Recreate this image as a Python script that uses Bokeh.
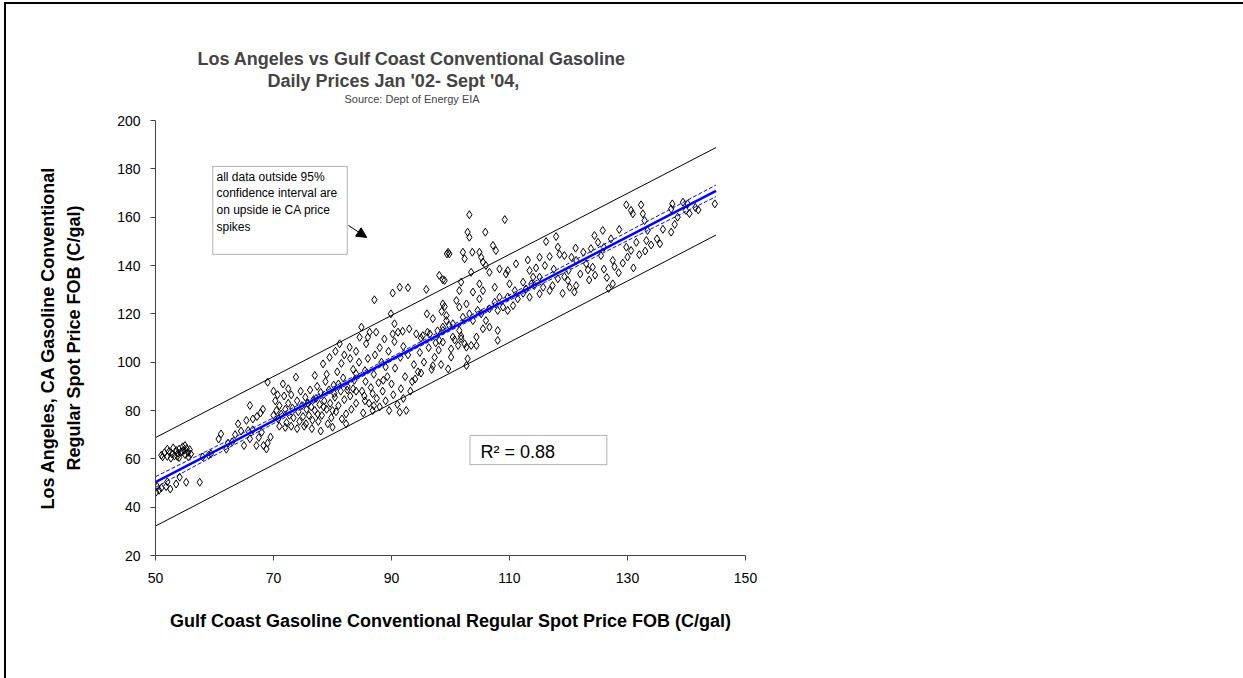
from bokeh.plotting import figure
from bokeh.models import (Range1d, FixedTicker, Label, BoxAnnotation, Arrow,
                          NormalHead, ColumnDataSource, Title)
from bokeh.embed import file_html
from bokeh.resources import INLINE

# ---------------- data ----------------
gulf_price = [
    51.0, 51.5, 52.0, 52.3, 52.8, 53.2, 53.5, 53.8, 54.0, 54.3, 54.6, 54.8, 55.0, 55.3, 55.5, 55.8,
    53.0, 52.0, 54.0, 55.0, 51.2, 56.0, 53.7, 54.5, 52.6, 55.6,
    50.1, 50.6, 51.0, 51.8, 52.5, 53.5, 54.1, 55.2, 57.5, 50.3, 52.0,
    58.0, 59.4, 59.0, 61.1, 60.7, 62.3, 63.0, 64.0, 64.5, 65.4, 65.7, 66.0, 67.1, 68.8, 68.3, 67.5,
    66.0, 66.5, 67.2, 67.8, 68.2, 63.5, 62.0, 65.0, 66.5, 68.0, 69.0, 69.5,
    69.0, 70.0, 70.3, 70.5, 70.8, 71.0, 71.3, 71.6, 71.8, 72.0, 72.2, 72.5, 72.7, 73.0, 73.2, 73.4,
    73.8, 74.0, 74.2, 74.4, 74.6, 74.8, 75.0, 75.2, 75.4, 75.6, 75.8, 76.0, 76.2, 76.4, 76.6, 76.8,
    72.0, 73.0, 74.0, 75.5, 71.0, 70.0, 70.7, 72.5,
    77.0, 77.2, 77.4, 77.6, 77.8, 78.0, 78.2, 78.4, 78.6, 78.8, 79.0, 79.2, 79.4, 79.6, 79.8, 80.0,
    80.2, 80.4, 80.6, 80.8, 81.0, 81.2, 81.4, 81.6, 81.8, 82.0, 82.3, 82.3, 82.5, 82.9, 83.0, 83.2,
    83.5, 83.7, 84.0, 84.0, 77.0, 79.5, 80.5, 78.0, 81.5, 83.0, 76.5, 79.0, 82.0, 84.0, 80.0, 78.5,
    81.0, 82.5, 83.5, 84.0, 80.3, 77.5,
    84.6, 84.9, 85.2, 85.4, 85.6, 85.7, 86.0, 86.2, 86.3, 86.5, 86.8, 87.0, 87.4, 87.5, 87.8, 88.0,
    88.3, 88.5, 88.8, 89.0, 89.3, 89.6, 89.9, 90.0, 90.2, 90.3, 90.5, 90.6, 91.0, 91.1, 91.4, 91.6,
    91.9, 92.0, 92.5, 92.3, 92.8, 93.0, 93.2, 93.5, 93.8, 94.2, 85.5, 86.0, 87.2, 88.0, 89.5, 90.5,
    91.5, 92.0, 85.0, 86.8, 88.6, 87.1, 90.2, 91.4, 92.8, 89.0, 84.5, 85.5, 87.0,
    94.5, 94.8, 95.0, 95.3, 95.5, 95.9, 96.1, 96.3, 96.5, 96.8, 97.0, 97.3, 97.5, 97.8, 98.1, 98.4,
    98.7, 98.7, 99.0, 99.3, 94.0, 95.0, 96.0, 97.0, 98.0, 99.4, 99.6, 98.5,
    103.2, 109.2, 102.9, 103.2, 105.9, 107.2, 107.7, 99.8, 99.6, 102.1, 102.4, 103.7, 104.9, 105.2,
    105.5, 106.0, 99.0, 101.8, 103.5, 104.9, 105.5, 106.6, 107.5, 108.3, 109.7, 109.4, 111.1, 112.3,
    113.1, 115.1, 116.8, 116.2, 117.9, 118.2, 118.5, 119.3, 120.5, 121.2, 113.4, 114.0, 115.1, 113.7,
    110.0, 110.9, 111.4, 110.6, 109.7, 108.3, 107.5, 106.6, 104.9, 103.8, 104.6, 103.2, 102.7, 101.5,
    102.1, 100.4, 99.3, 98.7, 101.5, 104.4, 103.8, 105.5, 108.0, 112.8, 113.4, 114.2, 115.1, 115.7,
    116.8, 117.3, 118.2, 119.3, 120.2, 119.9, 121.3, 121.3, 123.0, 123.3, 124.1, 124.4, 125.8, 125.0,
    125.5, 126.0, 127.2, 127.5, 127.5, 128.6, 129.8, 130.6, 129.8, 130.6, 130.9, 132.3, 132.6, 132.9,
    131.5, 133.2, 133.4, 137.4, 137.6, 137.4, 139.4, 139.9, 140.2, 144.8, 98.7, 101.0, 101.5, 99.8,
    98.1, 100.4, 101.8, 105.2, 106.0, 106.6, 108.0, 108.9, 109.7, 112.3,
    98.7, 100.1, 100.7, 101.3, 101.8, 102.4, 102.7, 103.5, 104.4, 100.1, 102.9, 102.7, 108.0,
    122.0, 123.5, 124.5, 126.0, 126.5, 127.8, 128.5, 129.2, 130.0, 131.0, 132.0, 133.0, 134.0, 135.0,
    135.5, 136.0, 138.0, 138.5, 140.5, 141.5, 142.0, 122.5, 123.8, 120.0, 117.5, 116.0, 114.5, 119.0,
    121.0, 126.8,
]
la_price = [
    61.5, 62.5, 61.0, 63.0, 62.0, 61.2, 63.5, 62.3, 64.0, 62.8, 65.0, 63.5, 61.8, 64.2, 62.6, 63.8,
    64.5, 64.0, 60.5, 65.5, 60.8, 62.0, 61.0, 63.0, 60.3, 60.8,
    46.2, 47.0, 48.0, 48.5, 47.5, 49.6, 52.4, 50.3, 50.3, 48.5, 50.5,
    60.8, 62.1, 61.5, 70.3, 68.2, 66.5, 67.0, 74.5, 71.5, 75.9, 71.7, 68.3, 65.5, 64.1, 65.5, 68.8,
    82.1, 76.5, 77.5, 79.0, 80.5, 70.0, 64.0, 65.5, 72.0, 71.0, 66.5, 69.0,
    91.7, 88.0, 84.0, 80.0, 76.5, 82.0, 78.5, 91.0, 86.0, 80.5, 75.0, 83.0, 78.0, 86.5, 81.0, 77.0,
    93.8, 84.0, 79.5, 75.5, 88.0, 82.0, 77.5, 73.5, 85.5, 80.5, 83.0, 78.0, 88.5, 81.5, 76.0, 84.5,
    73.0, 73.5, 72.5, 74.5, 73.5, 78.0, 86.5, 89.0,
    80.0, 85.0, 90.0, 75.5, 82.5, 87.5, 78.0, 99.3, 84.0, 92.0, 80.5, 74.5, 88.5, 83.0, 77.0, 73.1,
    90.5, 85.5, 79.5, 96.0, 82.0, 107.6, 88.0, 76.5, 93.5, 84.5, 78.6, 74.5, 90.0, 106.2, 86.0, 80.5,
    97.0, 92.5, 83.0, 95.2, 94.5, 102.0, 104.5, 71.5, 99.5, 101.5, 72.5, 95.0, 103.0, 104.5, 80.0, 81.5,
    91.0, 88.5, 89.0, 88.0, 87.0, 78.5,
    110.3, 114.5, 79.0, 86.0, 92.0, 107.6, 110.3, 83.0, 112.4, 89.5, 80.0, 95.0, 112.4, 85.0, 91.5, 81.5,
    100.0, 88.0, 109.6, 84.0, 94.0, 80.0, 120.0, 91.0, 111.7, 86.5, 115.9, 97.5, 82.5, 112.4, 79.3, 89.0,
    112.8, 85.0, 80.0, 94.0, 103.0, 113.8, 88.0, 92.0, 99.0, 111.7, 96.5, 101.5, 103.0, 106.0, 104.5, 108.5,
    102.0, 106.5, 88.0, 87.0, 92.5, 125.8, 128.6, 131.0, 130.8, 98.0, 100.0, 84.0, 82.0,
    96.0, 104.0, 110.0, 111.0, 100.0, 130.1, 112.4, 106.0, 111.7, 97.0, 118.0, 102.0, 108.0, 113.0, 135.9, 99.0,
    114.5, 134.1, 123.0, 117.2, 93.0, 95.5, 120.0, 98.5, 105.0, 144.8, 97.2, 121.0,
    161.0, 159.0, 153.8, 151.7, 153.8, 148.3, 146.2, 144.8, 145.5, 145.5, 142.8, 145.5, 145.5, 143.4,
    141.4, 140.0, 133.8, 133.1, 137.2, 132.4, 129.6, 137.2, 131.0, 138.6, 137.9, 136.5, 140.7, 133.1,
    142.3, 143.4, 143.7, 149.9, 152.0, 147.6, 144.6, 144.1, 143.4, 147.2, 137.9, 135.2, 135.2, 132.4,
    132.4, 129.6, 126.2, 123.4, 121.4, 126.9, 124.8, 122.1, 126.2, 129.0, 121.4, 120.0, 124.1, 122.8,
    118.6, 115.9, 119.3, 113.1, 113.1, 110.4, 117.2, 113.8, 113.1, 130.3, 126.9, 131.7, 128.3, 131.0,
    129.6, 131.7, 134.5, 135.4, 131.0, 133.8, 131.7, 142.1, 140.7, 138.2, 139.3, 152.4, 154.5, 149.6,
    144.1, 147.5, 151.0, 142.1, 132.4, 154.9, 147.6, 146.2, 165.1, 162.8, 161.4, 165.1, 161.4, 158.6,
    149.6, 150.3, 154.5, 153.8, 165.5, 163.4, 166.2, 162.8, 165.5, 165.5, 124.1, 125.5, 129.6, 115.2,
    109.0, 110.4, 110.8, 120.0, 117.2, 114.5, 121.4, 122.8, 127.0, 128.5,
    108.3, 105.5, 109.2, 106.9, 109.7, 107.6, 106.2, 106.9, 106.9, 102.1, 101.4, 98.6, 109.0,
    136.5, 134.0, 136.0, 138.5, 135.0, 139.5, 137.0, 141.0, 143.5, 139.0, 144.5, 146.0, 148.5, 151.0,
    149.0, 155.0, 157.0, 160.0, 161.5, 164.0, 163.0, 145.5, 147.0, 138.0, 138.5, 140.0, 139.0, 128.5,
    129.0, 130.5,
]

# trend line, 95% prediction band and 95% confidence band
fit_x = [50.0, 145.0]
fit_y = [50.4, 170.9]
pred_upper = [68.8, 188.8]
pred_lower = [32.2, 152.6]
conf_x = [50.0, 70.0, 90.0, 110.0, 130.0, 145.0]
conf_upper = [52.6, 77.0, 102.1, 127.8, 153.9, 173.3]
conf_lower = [48.2, 74.6, 100.5, 125.6, 150.3, 168.5]

x_ticks = [50, 70, 90, 110, 130, 150]
y_ticks = [20, 40, 60, 80, 100, 120, 140, 160, 180, 200]

title_lines = ["Los Angeles vs  Gulf Coast Conventional Gasoline",
               "Daily Prices Jan '02- Sept '04,"]
source_text = "Source: Dept of Energy EIA"
x_title = "Gulf Coast Gasoline Conventional Regular Spot Price FOB (C/gal)"
y_title = ["Los Angeles, CA Gasoline Conventional", "Regular Spot Price FOB (C/gal)"]
note_lines = ["all data outside 95%", "confidence interval are", "on upside ie CA price", "spikes"]
r2_text = "R\u00b2 = 0.88"

FONT = "Liberation Sans"

# ---------------- figure ----------------
p = figure(frame_width=590, frame_height=435,
           min_border_left=149, min_border_right=498,
           min_border_top=116, min_border_bottom=123,
           x_range=Range1d(50, 150), y_range=Range1d(20, 200),
           output_backend="svg", toolbar_location=None,
           background_fill_color="white", border_fill_color="white",
           styles={"border-top": "2px solid black", "border-left": "2px solid black",
                   "margin-left": "4px", "margin-top": "2px"})
p.outline_line_color = None
p.grid.visible = False

for ax in (p.xaxis[0], p.yaxis[0]):
    ax.major_label_text_font = FONT
    ax.major_label_text_font_size = "14px"
    ax.major_label_text_color = "black"
    ax.axis_line_color = "#444444"
    ax.major_tick_line_color = "#444444"
    ax.minor_tick_line_color = None
    ax.major_tick_out = 5
    ax.major_tick_in = 0
    ax.axis_label_text_font = FONT
    ax.axis_label_text_font_size = "18px"
    ax.axis_label_text_font_style = "bold"
    ax.axis_label_text_color = "black"
p.xaxis[0].ticker = FixedTicker(ticks=x_ticks)
p.yaxis[0].ticker = FixedTicker(ticks=y_ticks)
p.xaxis[0].major_label_standoff = 12
p.yaxis[0].major_label_standoff = 10
p.xaxis[0].axis_label = x_title
p.xaxis[0].axis_label_standoff = 25
p.yaxis[0].axis_label = y_title[0] + "\n" + y_title[1]
p.yaxis[0].axis_label_standoff = 30
p.yaxis[0].axis_label_text_line_height = 1.3

# titles (first added sits closest to the plot); a blank spacer keeps the
# source line clear of the plot area
p.add_layout(Title(text=" ", text_font=FONT, text_font_size="12.5px", standoff=0), "above")
p.add_layout(Title(text=source_text, align="left", offset=189, text_font=FONT,
                   text_font_size="11px", text_font_style="normal", standoff=0), "above")
p.add_layout(Title(text=title_lines[1], align="left", offset=112, text_font=FONT,
                   text_font_size="18px", text_font_style="bold", standoff=0), "above")
p.add_layout(Title(text=title_lines[0], align="left", offset=42, text_font=FONT,
                   text_font_size="18px", text_font_style="bold", standoff=0), "above")

# prediction band
p.line(fit_x, pred_upper, line_color="black", line_width=1)
p.line(fit_x, pred_lower, line_color="black", line_width=1)

# scatter
src = ColumnDataSource(dict(x=gulf_price, y=la_price))
p.scatter("x", "y", source=src, marker="diamond", size=8,
          line_color="black", line_width=1, fill_color=None)

# regression & confidence band
p.line(conf_x, conf_upper, line_color="#0000FF", line_width=1, line_dash="4 2")
p.line(conf_x, conf_lower, line_color="#0000FF", line_width=1, line_dash="4 2")
p.line(fit_x, fit_y, line_color="#0000FF", line_width=2.5)

# note box with arrow
p.add_layout(BoxAnnotation(left=59.7, right=82.5, top=181.0, bottom=144.6,
                           fill_color="white", fill_alpha=1,
                           line_color="black", line_width=1))
for i, t in enumerate(note_lines):
    p.add_layout(Label(x=61, y=379 - i * 16.7, x_units="screen", y_units="screen",
                       text=t, text_font=FONT, text_font_size="12px",
                       text_baseline="middle", text_align="left", text_color="black"))
p.add_layout(Arrow(x_start=82.7, y_start=156.6, x_end=85.8, y_end=151.6,
                   line_color="black", line_width=1,
                   end=NormalHead(size=10, fill_color="black", line_color="black")))

# R^2 box
p.add_layout(BoxAnnotation(left=103.3, right=126.5, top=69.7, bottom=57.6,
                           fill_color="white", fill_alpha=1,
                           line_color="black", line_width=1))
p.add_layout(Label(x=325, y=104, x_units="screen", y_units="screen",
                   text=r2_text, text_font=FONT, text_font_size="18px",
                   text_baseline="middle", text_align="left", text_color="black"))

open("out.html", "w").write(file_html(p, INLINE))
